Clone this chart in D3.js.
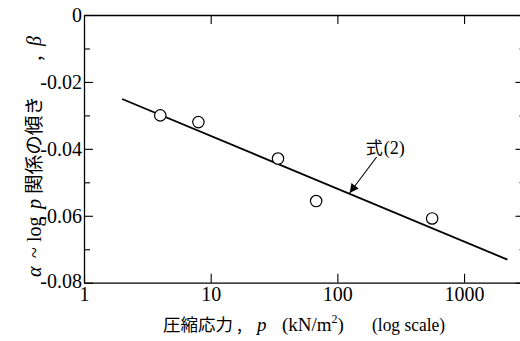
<!DOCTYPE html>
<html><head><meta charset="utf-8">
<script src="https://cdn.jsdelivr.net/npm/d3@7"></script>
<style>
body{margin:0;background:#fff;}
svg{display:block;}
</style></head>
<body>
<svg id="chart" width="520" height="341"></svg>
<script>
// ---- data ----
const pressure = [4, 8, 34, 68, 560];            // p (kN/m2)
const beta = [-0.030, -0.032, -0.0429, -0.0556, -0.0608];
const fitP = [2, 2200];                          // 式(2) endpoints
const fitBeta = [-0.0251, -0.0731];
const xTicks = [1, 10, 100, 1000];
const xTickLabels = ["1", "10", "100", "1000"];
const yMajorTicks = [0, -0.02, -0.04, -0.06, -0.08];
const yTickLabels = ["0", "-0.02", "-0.04", "-0.06", "-0.08"];
const yMinorTicks = [-0.01, -0.03, -0.05, -0.07];
const annotation = {text: "式", num: "(2)", p: 125, beta: -0.0532};

const svg = d3.select("#chart");
const serif = "Liberation Serif, Times New Roman, serif";
const jp = "Noto Sans CJK JP, Noto Sans CJK SC, sans-serif";

const x = d3.scaleLog().domain([1, 3000]).range([84, 524.5]);
const y = d3.scaleLinear().domain([-0.08, 0]).range([282.7, 15]);

const axStroke = 1.3;

function styleAxis(g){
  g.attr("font-family", serif).attr("font-size", 20);
  g.select(".domain").attr("stroke","#000").attr("stroke-width",axStroke);
  g.selectAll(".tick line").attr("stroke","#000").attr("stroke-width",1.1);
  g.selectAll("text").attr("font-family",serif).attr("font-size",20).attr("fill","#000");
}

// bottom axis
const gB = svg.append("g").attr("transform",`translate(0,${y(-0.08)})`)
  .call(d3.axisBottom(x).tickValues(xTicks).tickFormat((d,i)=>xTickLabels[i]).tickSizeInner(-9).tickSizeOuter(0).tickPadding(4));
styleAxis(gB);
// top axis
const gT = svg.append("g").attr("transform",`translate(0,${y(0)})`)
  .call(d3.axisTop(x).tickValues(xTicks.slice(1)).tickFormat("").tickSizeInner(-9).tickSizeOuter(0));
styleAxis(gT);
// left axis major
const gL = svg.append("g").attr("transform",`translate(${x(1)},0)`)
  .call(d3.axisLeft(y).tickValues(yMajorTicks).tickFormat((d,i)=>yTickLabels[i]).tickSizeInner(-9).tickSizeOuter(0).tickPadding(2));
styleAxis(gL);
gL.selectAll(".tick text").filter(d=>d===-0.08).attr("dy","0.22em");
gL.selectAll(".tick text").filter(d=>d===0).attr("dy","0.3em");
// left minor
const gLm = svg.append("g").attr("transform",`translate(${x(1)},0)`)
  .call(d3.axisLeft(y).tickValues(yMinorTicks).tickFormat("").tickSizeInner(-6).tickSizeOuter(0));
styleAxis(gLm); gLm.select(".domain").remove();
// right axis
const gR = svg.append("g").attr("transform",`translate(${x(3000)},0)`)
  .call(d3.axisRight(y).tickValues(yMajorTicks).tickFormat("").tickSizeInner(-9).tickSizeOuter(0));
styleAxis(gR);
const gRm = svg.append("g").attr("transform",`translate(${x(3000)},0)`)
  .call(d3.axisRight(y).tickValues(yMinorTicks).tickFormat("").tickSizeInner(-5).tickSizeOuter(0));
styleAxis(gRm); gRm.select(".domain").remove();

// fit line
const line = d3.line().x(d=>x(d[0])).y(d=>y(d[1]));
svg.append("path").datum(fitP.map((p,i)=>[p,fitBeta[i]]))
  .attr("d",line).attr("fill","none").attr("stroke","#000").attr("stroke-width",1.8);

// points
svg.selectAll("circle.pt").data(pressure.map((p,i)=>[p,beta[i]])).enter()
  .append("circle").attr("class","pt")
  .attr("cx",d=>x(d[0])).attr("cy",d=>y(d[1])).attr("r",5.7)
  .attr("fill","#fff").attr("stroke","#000").attr("stroke-width",1.2);

// annotation
const tipX = x(annotation.p), tipY = y(annotation.beta);
const tailX = tipX + 27, tailY = tipY - 36;
svg.append("defs").append("marker").attr("id","arr").attr("viewBox","0 0 10 10")
  .attr("refX",10).attr("refY",5).attr("markerWidth",14).attr("markerHeight",9)
  .attr("markerUnits","userSpaceOnUse").attr("orient","auto")
  .append("path").attr("d","M0,0L10,5L0,10Z").attr("fill","#000");
svg.append("line").attr("x1",tailX).attr("y1",tailY).attr("x2",tipX).attr("y2",tipY)
  .attr("stroke","#000").attr("stroke-width",1.1).attr("marker-end","url(#arr)");
svg.append("text").attr("x",tailX-11).attr("y",tailY-3).attr("font-size",17)
  .attr("font-family",jp).text(annotation.text);
svg.append("text").attr("x",tailX+7).attr("y",tailY-3).attr("font-size",18)
  .attr("font-family",serif).text(annotation.num);

// x label
const xb = 331;
svg.append("text").attr("x",163).attr("y",xb).attr("font-family",jp).attr("font-size",17.5).text("圧縮応力");
svg.append("text").attr("x",237).attr("y",xb).attr("font-family",jp).attr("font-size",17.5).text(",");
svg.append("text").attr("x",257).attr("y",xb).attr("font-family",serif).attr("font-style","italic").attr("font-size",19).text("p");
const kn = svg.append("text").attr("x",282).attr("y",xb).attr("font-family",serif).attr("font-size",19);
kn.append("tspan").text("(kN/m");
kn.append("tspan").attr("font-size",12).attr("dy",-8).text("2");
kn.append("tspan").attr("dy",8).text(")");
svg.append("text").attr("x",372).attr("y",xb).attr("font-family",serif).attr("font-size",19)
  .attr("textLength",73).attr("lengthAdjust","spacingAndGlyphs").text("(log scale)");

// y label (rotated)
const yl = svg.append("g").attr("transform","translate(41,0) rotate(-90)");
yl.append("text").attr("x",-277).attr("font-family",serif).attr("font-style","italic").attr("font-size",20).text("α");
yl.append("text").attr("x",-258).attr("font-family",serif).attr("font-size",20).text("~");
yl.append("text").attr("x",-242).attr("font-family",serif).attr("font-size",20).text("log");
yl.append("text").attr("x",-209).attr("font-family",serif).attr("font-style","italic").attr("font-size",20).text("p");
yl.append("text").attr("x",-194).attr("font-family",jp).attr("font-size",19).attr("textLength",98).attr("lengthAdjust","spacingAndGlyphs").text("関係の傾き");
yl.append("text").attr("x",-61).attr("font-family",jp).attr("font-size",19).text(",");
yl.append("text").attr("x",-46).attr("font-family",serif).attr("font-style","italic").attr("font-size",20).text("β");
</script>
</body></html>
